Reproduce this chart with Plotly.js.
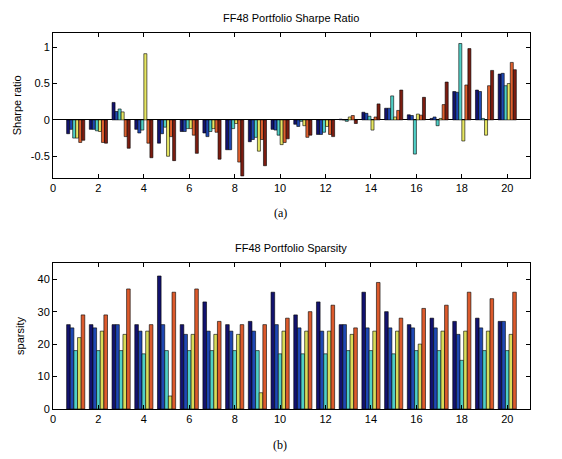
<!DOCTYPE html>
<html>
<head>
<meta charset="utf-8">
<script src="https://cdn.plot.ly/plotly-3.0.1.min.js"></script>
<style>html,body{margin:0;padding:0;background:#fff;}#chart{width:562px;height:459px;}</style>
</head>
<body>
<div id="chart"></div>
<script>
var groups = [1,2,3,4,5,6,7,8,9,10,11,12,13,14,15,16,17,18,19,20];

// Sharpe ratio, 6 series
var sharpeS1 = [-0.19,-0.13,0.24,-0.13,-0.32,-0.16,-0.18,-0.41,-0.30,-0.13,-0.06,-0.20,0.01,0.105,0.16,0.07,0.02,0.39,0.41,0.63];
var sharpeS2 = [-0.13,-0.13,0.115,-0.18,-0.19,-0.16,-0.23,-0.41,-0.27,-0.14,-0.09,-0.20,0.00,0.09,0.16,0.06,0.04,0.38,0.39,0.64];
var sharpeS3 = [-0.25,-0.15,0.15,-0.14,-0.10,-0.12,-0.16,-0.12,-0.24,-0.21,-0.02,-0.17,-0.02,0.05,0.33,-0.47,-0.08,1.05,0.02,0.47];
var sharpeS4 = [-0.25,-0.16,0.11,0.91,-0.50,-0.12,-0.12,-0.05,-0.43,-0.34,-0.08,-0.09,0.04,-0.14,0.04,0.08,0.02,-0.29,-0.21,0.50];
var sharpeS5 = [-0.31,-0.31,-0.23,-0.32,-0.23,-0.21,-0.17,-0.58,-0.27,-0.31,-0.24,-0.20,0.06,0.04,0.13,0.065,0.21,0.48,0.47,0.79];
var sharpeS6 = [-0.28,-0.32,-0.39,-0.52,-0.56,-0.46,-0.54,-0.77,-0.63,-0.26,-0.21,-0.23,-0.05,0.22,0.41,0.31,0.52,0.98,0.68,0.69];

// Sparsity, 5 series
var sparseS1 = [26,26,26,26,41,26,33,26,27,36,29,33,26,36,30,26,28,27,28,27];
var sparseS2 = [25,25,26,24,26,23,24,24,24,26,25,24,26,25,25,25,25,23,25,27];
var sparseS3 = [18,18,18,17,18,18,18,18,18,17,17,17,18,18,17,18,18,15,18,18];
var sparseS4 = [22,24,23,24,4,23,23,23,5,24,24,24,23,24,24,20,24,24,24,23];
var sparseS5 = [29,29,37,26,36,37,27,26,26,28,30,32,25,39,28,31,32,36,34,36];

var sharpeColors = ['#12126e','#1f48b4','#4fcfc6','#e6e662','#e0602e','#7c1c10'];
var sparseColors = ['#12126e','#1f48b4','#4fcfc6','#d8dc5a','#dc5a2c'];

var traces = [];
[sharpeS1,sharpeS2,sharpeS3,sharpeS4,sharpeS5,sharpeS6].forEach(function(s,i){
  traces.push({type:'bar', x:groups, y:s, xaxis:'x', yaxis:'y', offsetgroup:'a'+i,
    marker:{color:sharpeColors[i], line:{color:'#000', width:0.6}}, showlegend:false, hoverinfo:'none'});
});
[sparseS1,sparseS2,sparseS3,sparseS4,sparseS5].forEach(function(s,i){
  traces.push({type:'bar', x:groups, y:s, xaxis:'x2', yaxis:'y2', offsetgroup:'b'+i,
    marker:{color:sparseColors[i], line:{color:'#000', width:0.6}}, showlegend:false, hoverinfo:'none'});
});

var tickFont = {family:'Liberation Sans, Arial, sans-serif', size:11, color:'#000'};
var axBase = {showline:true, linecolor:'#000', linewidth:1, mirror:'ticks', ticks:'inside',
  ticklen:4, tickcolor:'#000', showgrid:false, tickfont:tickFont, fixedrange:true};

var layout = {
  width:562, height:459,
  margin:{l:0,r:0,t:0,b:0},
  paper_bgcolor:'#fff', plot_bgcolor:'#fff',
  barmode:'group', bargap:0.2, bargroupgap:0,
  xaxis: Object.assign({}, axBase, {domain:[0.0943,0.943], range:[0,21], tickvals:[0,2,4,6,8,10,12,14,16,18,20], anchor:'y', zeroline:false}),
  yaxis: Object.assign({}, axBase, {domain:[0.612,0.929], range:[-0.8,1.2], tickvals:[-0.5,0,0.5,1], ticktext:['-0.5','0','0.5','1'],
    zeroline:true, zerolinecolor:'#000', zerolinewidth:1, anchor:'x',
    title:{text:'Sharpe ratio', font:{family:'Liberation Sans, Arial, sans-serif', size:11, color:'#000'}, standoff:6}}),
  xaxis2: Object.assign({}, axBase, {domain:[0.0943,0.943], range:[0,21], tickvals:[0,2,4,6,8,10,12,14,16,18,20], anchor:'y2', zeroline:false}),
  yaxis2: Object.assign({}, axBase, {domain:[0.109,0.427], range:[0,45], tickvals:[0,10,20,30,40], anchor:'x2', zeroline:false,
    title:{text:'sparsity', font:{family:'Liberation Sans, Arial, sans-serif', size:11, color:'#000'}, standoff:10}}),
  annotations:[
    {text:'FF48 Portfolio Sharpe Ratio', xref:'paper', yref:'paper', x:0.518, y:1-18/459, showarrow:false,
      font:{family:'Liberation Sans, Arial, sans-serif', size:11, color:'#000'}, xanchor:'center', yanchor:'middle'},
    {text:'FF48 Portfolio Sparsity', xref:'paper', yref:'paper', x:0.518, y:1-248/459, showarrow:false,
      font:{family:'Liberation Sans, Arial, sans-serif', size:11, color:'#000'}, xanchor:'center', yanchor:'middle'},
    {text:'(a)', xref:'paper', yref:'paper', x:280/562, y:1-213/459, showarrow:false,
      font:{family:'Liberation Serif, DejaVu Serif, serif', size:12, color:'#000'}, xanchor:'center', yanchor:'middle'},
    {text:'(b)', xref:'paper', yref:'paper', x:280/562, y:1-445/459, showarrow:false,
      font:{family:'Liberation Serif, DejaVu Serif, serif', size:12, color:'#000'}, xanchor:'center', yanchor:'middle'}
  ]
};

Plotly.newPlot('chart', traces, layout, {displayModeBar:false, staticPlot:true});
</script>
</body>
</html>
